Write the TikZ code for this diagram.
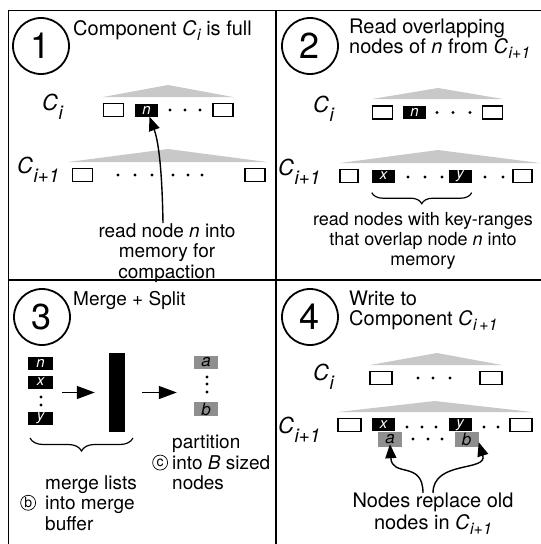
\documentclass[tikz,border=0pt]{standalone}
\usepackage{fontspec}
\setmainfont{TeX Gyre Heros}
\usetikzlibrary{arrows.meta,decorations.pathreplacing}
\definecolor{trigray}{HTML}{C8C8C8}
\definecolor{boxgray}{HTML}{8F8F8F}
\newcommand{\Clab}[1]{{\fontsize{22}{22}\selectfont\itshape C}\kern0.5pt\raisebox{-9pt}{\fontsize{19}{19}\selectfont\itshape #1}}
\newcommand{\Ctxt}[1]{{\itshape C}\kern0.5pt\raisebox{-5pt}{\fontsize{16}{16}\selectfont\itshape #1}}
\begin{document}
\begin{tikzpicture}[x=1pt,y=-1pt,
  every node/.style={font=\fontsize{19}{20.5}\selectfont},
  numcirc/.style={draw, circle, line width=1.8pt, minimum size=56pt, inner sep=0, font=\fontsize{36}{36}\selectfont},
  titletext/.style={align=left, inner sep=0, font=\fontsize{20}{20}\selectfont},
  clab/.style={anchor=base west, inner sep=0},
  wbox/.style={draw, line width=1.1pt, fill=white, minimum width=20pt, minimum height=13pt, inner sep=0},
  bbox/.style={fill=black, text=white, minimum width=23pt, minimum height=13pt, inner sep=0, font=\fontsize{15}{15}\selectfont\itshape},
  gbox/.style={fill=boxgray, text=black, minimum width=24pt, minimum height=14pt, inner sep=0, font=\fontsize{17}{17}\selectfont\itshape},
  tri/.style={fill=trigray},
  dotc/.style={fill=black},
  carr/.style={line width=1.4pt, -{Triangle[length=14pt,width=11pt]}},
  sarr/.style={line width=1.4pt, -{Triangle[length=18pt,width=13pt]}},
  captext/.style={align=center, inner sep=0},
  lefttext/.style={align=left, inner sep=0},
  smallcirc/.style={draw, circle, inner sep=0, minimum size=15pt, line width=0.7pt, font=\fontsize{14}{14}\selectfont},
  bracestyle/.style={line width=1.2pt, decorate},
]
\useasboundingbox (0,0) rectangle (541,544);
% frame
\draw[line width=1pt] (8,544) -- (8,10) -- (541,10);
\draw[line width=2pt] (276,10) -- (276,544);
\draw[line width=2pt] (8,280) -- (541,280);

% ---------- Panel 1
\node[numcirc] (c1) at (41,46) {1};
\node[titletext, anchor=base west] (t1) at (73,35) {Component \Ctxt{i} is full};
\node[clab] (l1a) at (42,110) {\Clab{i}};
\fill[tri] (103,97) -- (168,85) -- (233,97) -- cycle;
\node[wbox] (p1w1) at (113.5,110) {};
\node[bbox] (p1n) at (146.5,110) {n};
\foreach \x in {170,185,200} \fill[dotc] (\x,110) circle (1.6);
\node[wbox] (p1w2) at (223,110) {};
\node[clab] (l1b) at (17,173) {\Clab{i+1}};
\fill[tri] (68,162) -- (168,149) -- (267,162) -- cycle;
\node[wbox] (p1w3) at (82.5,175) {};
\foreach \x in {118,135,152,173,188,202} \fill[dotc] (\x,175) circle (1.6);
\node[wbox] (p1w4) at (255,175) {};
\node[captext, anchor=north] (cap1) at (167,223) {read node \textit{n} into\\memory for\\compaction};
\draw[carr] ([xshift=-4pt]cap1.north) .. controls (162,165) and (158,140) .. ([xshift=3pt]p1n.south);

% ---------- Panel 2
\node[numcirc] (c2) at (310,46) {2};
\node[titletext, anchor=north west] (t2) at (349,19) {Read overlapping\\nodes of \textit{n} from \Ctxt{i+1}};
\node[clab] (l2a) at (313,112) {\Clab{i}};
\fill[tri] (372,99) -- (438,88) -- (503,99) -- cycle;
\node[wbox] (p2w1) at (382.5,112.5) {};
\node[bbox] (p2n) at (414.5,112.5) {n};
\foreach \x in {437,453,470} \fill[dotc] (\x,112.5) circle (1.6);
\node[wbox] (p2w2) at (492.5,112.5) {};
\node[clab] (l2b) at (278,175) {\Clab{i+1}};
\fill[tri] (340,163) -- (438,150) -- (540,163) -- cycle;
\node[wbox, minimum width=18pt] (p2w3) at (349,176) {};
\node[bbox] (p2x) at (383.5,176) {x};
\foreach \x in {408,425,442} \fill[dotc] (\x,177) circle (1.6);
\node[bbox] (p2y) at (460,176) {y};
\foreach \x in {485,503} \fill[dotc] (\x,177) circle (1.6);
\node[wbox, minimum width=19pt] (p2w4) at (522.5,176) {};
\draw[bracestyle, decoration={brace, mirror, amplitude=11pt}] ([yshift=-10pt]p2x.south west) -- ([yshift=-10pt]p2y.south east);
\node[captext, anchor=north, font=\fontsize{18}{20}\selectfont] (cap2) at (423,212) {read nodes with key-ranges\\that overlap node \textit{n} into\\memory};

% ---------- Panel 3
\node[numcirc] (c3) at (42,317) {3};
\node[titletext, anchor=base west, font=\fontsize{19}{19}\selectfont] (t3) at (73,305) {Merge + Split};
\node[bbox, minimum width=25pt] (p3n) at (40.5,363.5) {n};
\node[bbox, minimum width=25pt] (p3x) at (40.5,382) {x};
\foreach \y in {397,405} \fill[dotc] (41,\y) circle (1.6);
\node[bbox, minimum width=25pt] (p3y) at (40.5,418.5) {y};
\node[fill=black, minimum width=16pt, minimum height=79pt, inner sep=0] (bar) at (117,392.5) {};
\node[gbox, minimum height=13pt] (p3a) at (206,362.5) {a};
\foreach \y in {377,384,392} \fill[dotc] (207,\y) circle (1.6);
\node[gbox] (p3b) at (206,409) {b};
\draw[sarr] ([xshift=9pt]p3x.east |- bar.west) -- ([xshift=-14pt]bar.west);
\draw[sarr] ([xshift=17pt]bar.east) -- ([xshift=-17pt]p3a.west |- bar.east);
\draw[bracestyle, decoration={brace, mirror, amplitude=13pt}] (30,438) -- (133,438);
\node[lefttext, anchor=north west] (cap3a) at (45,475) {merge lists\\into merge\\buffer};
\node[smallcirc, anchor=east] (cb) at ([xshift=-9pt]cap3a.west) {b};
\node[lefttext, anchor=north west] (cap3b) at (172,435) {partition\\into \textit{B} sized\\nodes};
\node[smallcirc, anchor=east] (cc) at ([xshift=-4pt]cap3b.west) {c};

% ---------- Panel 4
\node[numcirc] (c4) at (310,317) {4};
\node[titletext, anchor=north west] (t4) at (349,291) {Write to\\Component \Ctxt{i\,+1}};
\node[clab] (l4a) at (313,380) {\Clab{i}};
\fill[tri] (370,365) -- (437,353) -- (502,365) -- cycle;
\node[wbox, minimum width=22pt] (p4w1) at (381,378) {};
\foreach \x in {418,433,450} \fill[dotc] (\x,378) circle (1.6);
\node[wbox, minimum width=22pt] (p4w2) at (491,378) {};
\node[clab] (l4b) at (278,433) {\Clab{i+1}};
\fill[tri] (338,412) -- (435,401) -- (532,412) -- cycle;
\node[wbox, minimum width=23pt] (p4w3) at (349.5,425) {};
\node[bbox, anchor=north] (p4x) at (383.5,418) {x};
\node[bbox, anchor=north] (p4y) at (460,418) {y};
\node[gbox, minimum height=15pt] (p4a) at (390,439.5) {a};
\node[gbox, minimum height=15pt] (p4b) at (466.5,439.5) {b};
\foreach \x in {407,422,436} \fill[dotc] (\x,427) circle (1.6);
\foreach \x in {413,428,442} \fill[dotc] (\x,439) circle (1.6);
\foreach \x in {484,498} \fill[dotc] (\x,427) circle (1.6);
\node[wbox, minimum width=22pt] (p4w4) at (521,425) {};
\node[captext, anchor=north, font=\fontsize{20}{22}\selectfont] (cap4) at (433,493) {Nodes replace old\\nodes in \Ctxt{i+1}};
\draw[carr] ([xshift=-10pt]cap4.north) .. controls (423,460) and (392,478) .. ([yshift=3pt]p4a.south);
\draw[carr] ([xshift=0pt]cap4.north) .. controls (433,460) and (488,472) .. ([yshift=5pt]p4b.south east);
\end{tikzpicture}
\end{document}
